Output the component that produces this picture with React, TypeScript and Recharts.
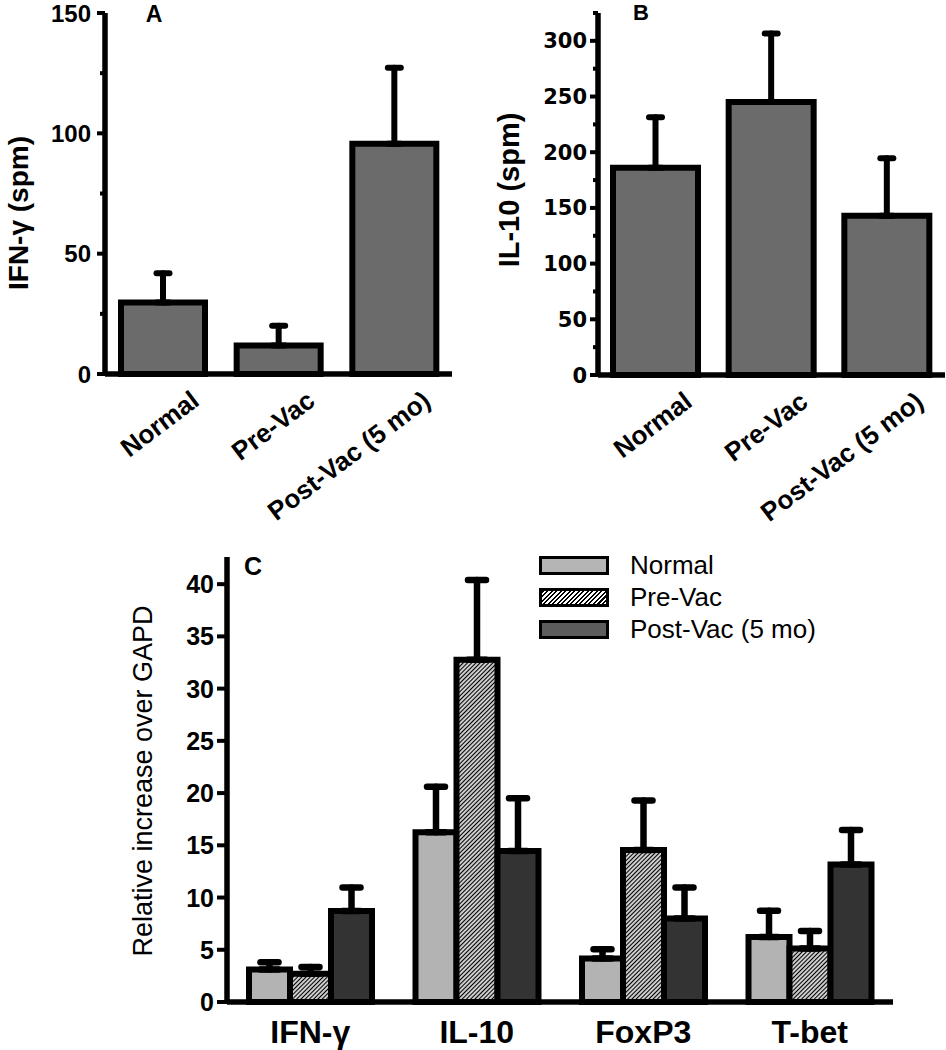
import React from 'react';
import { BarChart, Bar, XAxis, YAxis, ErrorBar, Legend } from 'recharts';

// ---------- data ----------
const groupsAB = ['Normal', 'Pre-Vac', 'Post-Vac (5 mo)'];
const ifnMean = [29.7, 11.8, 95.7];
const ifnErr = [12.2, 8.2, 31.5];
const il10Mean = [186, 245, 143];
const il10Err = [45.3, 61.7, 51.5];
const ticksA = [0, 25, 50, 75, 100, 125, 150];
const ticksB = [0, 25, 50, 75, 100, 125, 150, 175, 200, 225, 250, 275, 300, 325];

const markersC = ['IFN-γ', 'IL-10', 'FoxP3', 'T-bet'];
const normalC = [3.1, 16.24, 4.16, 6.23];
const normalErrC = [0.7, 4.36, 0.9, 2.5];
const preC = [2.7, 32.76, 14.55, 5.12];
const preErrC = [0.65, 7.64, 4.75, 1.68];
const postC = [8.7, 14.45, 8.0, 13.17];
const postErrC = [2.27, 5.05, 2.97, 3.29];
const ticksC = [0, 5, 10, 15, 20, 25, 30, 35, 40];
const seriesC = ['Normal', 'Pre-Vac', 'Post-Vac (5 mo)'];

const dataA = groupsAB.map((name, i) => ({ name, mean: ifnMean[i], err: ifnErr[i] }));
const dataB = groupsAB.map((name, i) => ({ name, mean: il10Mean[i], err: il10Err[i] }));
const dataC = markersC.map((name, i) => ({
  name,
  normal: normalC[i], normalErr: normalErrC[i],
  pre: preC[i], preErr: preErrC[i],
  post: postC[i], postErr: postErrC[i],
}));

const FONT = '"Liberation Sans", Arial, sans-serif';

// ---------- helpers ----------
const Txt = ({ x, y, size, weight = 'bold', rot = 0, children, family = FONT }: any) => (
  <div
    style={{
      position: 'absolute', left: x, top: y, fontFamily: family, fontSize: size, fontWeight: weight,
      lineHeight: 1, whiteSpace: 'nowrap', color: '#000',
      transform: `translate(-50%, -50%) rotate(${rot}deg)`,
    }}
  >
    {children}
  </div>
);

const makeYTick = (step: number, majorLen: number, minorLen: number, gap: number, fontSize: number, family: string) =>
  (props: any) => {
    const { x, y, payload } = props;
    const isMajor = Math.abs(payload.value % step) < 1e-9;
    return (
      <g>
        <line x1={x - (isMajor ? majorLen : minorLen)} x2={x} y1={y} y2={y} stroke="#000" strokeWidth={4} />
        {isMajor && (
          <text x={x - gap} y={y} dy="0.36em" textAnchor="end" fontFamily={family} fontWeight="bold" fontSize={fontSize} fill="#000">
            {payload.value}
          </text>
        )}
      </g>
    );
  };

const RotTick = (props: any) => {
  const { x, y, payload } = props;
  const ex = x + 38;
  const ey = y + 30;
  return (
    <text x={ex} y={ey} textAnchor="end" transform={`rotate(-37 ${ex} ${ey})`} fontFamily={FONT} fontWeight="bold" fontSize={26} fill="#000">
      {payload.value}
    </text>
  );
};

const CTick = (props: any) => {
  const { x, y, payload } = props;
  return (
    <text x={x} y={y + 41} textAnchor="middle" fontFamily={FONT} fontWeight="bold" fontSize={32} fill="#000">
      {payload.value}
    </text>
  );
};

const swatch: Record<string, React.CSSProperties> = {
  'Normal': { background: '#b5b5b5' },
  'Pre-Vac': { background: 'repeating-linear-gradient(135deg, #000 0px, #000 1.5px, #fff 1.5px, #fff 3.2px)' },
  'Post-Vac (5 mo)': { background: '#5c5c5c' },
};

const LegendC = () => (
  <div style={{ fontFamily: FONT }}>
    {seriesC.map((s) => (
      <div key={s} style={{ display: 'flex', alignItems: 'center', height: 32 }}>
        <div style={{ width: 64, height: 13, border: '3px solid #000', ...swatch[s] }} />
        <span style={{ marginLeft: 21, fontSize: 26, color: '#000', lineHeight: 1 }}>{s}</span>
      </div>
    ))}
  </div>
);

const errFn = (key: string) => (d: any) => [0, d[key]];

const AX = { stroke: '#000', strokeWidth: 5.5 };

export default function App() {
  return (
    <div style={{ position: 'absolute', left: 0, top: 0, width: 946, height: 1050, background: '#fff', overflow: 'hidden' }}>
      {/* Panel A */}
      <div style={{ position: 'absolute', left: 0, top: 0 }}>
        <BarChart width={470} height={545} data={dataA} margin={{ top: 13, right: 18, left: 0, bottom: 25 }} barCategoryGap={0}>
          <XAxis dataKey="name" interval={0} height={146} tickSize={0} tickMargin={0} tickLine={false}
            axisLine={AX} tick={<RotTick />} />
          <YAxis type="number" domain={[0, 150]} ticks={ticksA} width={105} interval={0} tickSize={0} tickMargin={0}
            tickLine={false} axisLine={AX}
            tick={makeYTick(50, 8, 5, 14, 24, FONT)} />
          <Bar dataKey="mean" fill="#6b6b6b" stroke="#000" strokeWidth={6} barSize={84} isAnimationActive={false}>
            <ErrorBar dataKey={errFn('err')} width={6.5} stroke="#000" strokeWidth={6} strokeLinecap="round" direction="y" isAnimationActive={false} />
          </Bar>
        </BarChart>
      </div>

      {/* Panel B */}
      <div style={{ position: 'absolute', left: 470, top: 0 }}>
        <BarChart width={476} height={545} data={dataB} margin={{ top: 13, right: 1, left: 0, bottom: 25 }} barCategoryGap={0}>
          <XAxis dataKey="name" interval={0} height={145} tickSize={0} tickMargin={0} tickLine={false}
            axisLine={AX} tick={<RotTick />} />
          <YAxis type="number" domain={[0, 325]} ticks={ticksB} width={128} interval={0} tickSize={0} tickMargin={0}
            tickLine={false} axisLine={AX}
            tick={makeYTick(50, 8, 5, 11, 21, '"DejaVu Sans", sans-serif')} />
          <Bar dataKey="mean" fill="#6b6b6b" stroke="#000" strokeWidth={6} barSize={85} isAnimationActive={false}>
            <ErrorBar dataKey={errFn('err')} width={6.5} stroke="#000" strokeWidth={6} strokeLinecap="round" direction="y" isAnimationActive={false} />
          </Bar>
        </BarChart>
      </div>

      {/* Panel C */}
      <div style={{ position: 'absolute', left: 0, top: 530 }}>
        <BarChart width={946} height={520} data={dataC} margin={{ top: 27, right: 53, left: 0, bottom: 0 }} barGap={0}>
          <defs>
            <pattern id="hatchC" patternUnits="userSpaceOnUse" width="3" height="3" patternTransform="rotate(45)">
              <rect x="0" y="0" width="3" height="3" fill="#fff" />
              <line x1="1.5" y1="0" x2="1.5" y2="3" stroke="#000" strokeWidth="1.4" />
            </pattern>
          </defs>
          <XAxis dataKey="name" interval={0} height={48} tickSize={0} tickMargin={0} tickLine={false}
            axisLine={AX} tick={<CTick />} />
          <YAxis type="number" domain={[0, 42.6]} ticks={ticksC} width={227} interval={0} tickSize={0} tickMargin={0}
            tickLine={false} axisLine={AX}
            tick={makeYTick(5, 10, 10, 13, 25, FONT)} />
          <Legend layout="horizontal" verticalAlign="middle" align="center" content={() => <LegendC />}
            wrapperStyle={{ left: 539, top: 19, width: 320, height: 96 }} />
          <Bar dataKey="normal" name="Normal" fill="#b3b3b3" stroke="#000" strokeWidth={6} barSize={41} isAnimationActive={false}>
            <ErrorBar dataKey={errFn('normalErr')} width={9} stroke="#000" strokeWidth={6.5} strokeLinecap="round" direction="y" isAnimationActive={false} />
          </Bar>
          <Bar dataKey="pre" name="Pre-Vac" fill="url(#hatchC)" stroke="#000" strokeWidth={6} barSize={41} isAnimationActive={false}>
            <ErrorBar dataKey={errFn('preErr')} width={9} stroke="#000" strokeWidth={6.5} strokeLinecap="round" direction="y" isAnimationActive={false} />
          </Bar>
          <Bar dataKey="post" name="Post-Vac (5 mo)" fill="#333333" stroke="#000" strokeWidth={6} barSize={41} isAnimationActive={false}>
            <ErrorBar dataKey={errFn('postErr')} width={9} stroke="#000" strokeWidth={6.5} strokeLinecap="round" direction="y" isAnimationActive={false} />
          </Bar>
        </BarChart>
      </div>

      {/* titles / axis labels */}
      <Txt x={154} y={14} size={23}>A</Txt>
      <Txt x={641} y={13} size={22}>B</Txt>
      <Txt x={253} y={566} size={25}>C</Txt>
      <Txt x={19} y={213} size={28} rot={-90}>IFN-γ (spm)</Txt>
      <Txt x={509} y={190} size={29} rot={-90}>IL-10 (spm)</Txt>
      <Txt x={143} y={781} size={27} weight="normal" rot={-90}>Relative increase over GAPD</Txt>
    </div>
  );
}
